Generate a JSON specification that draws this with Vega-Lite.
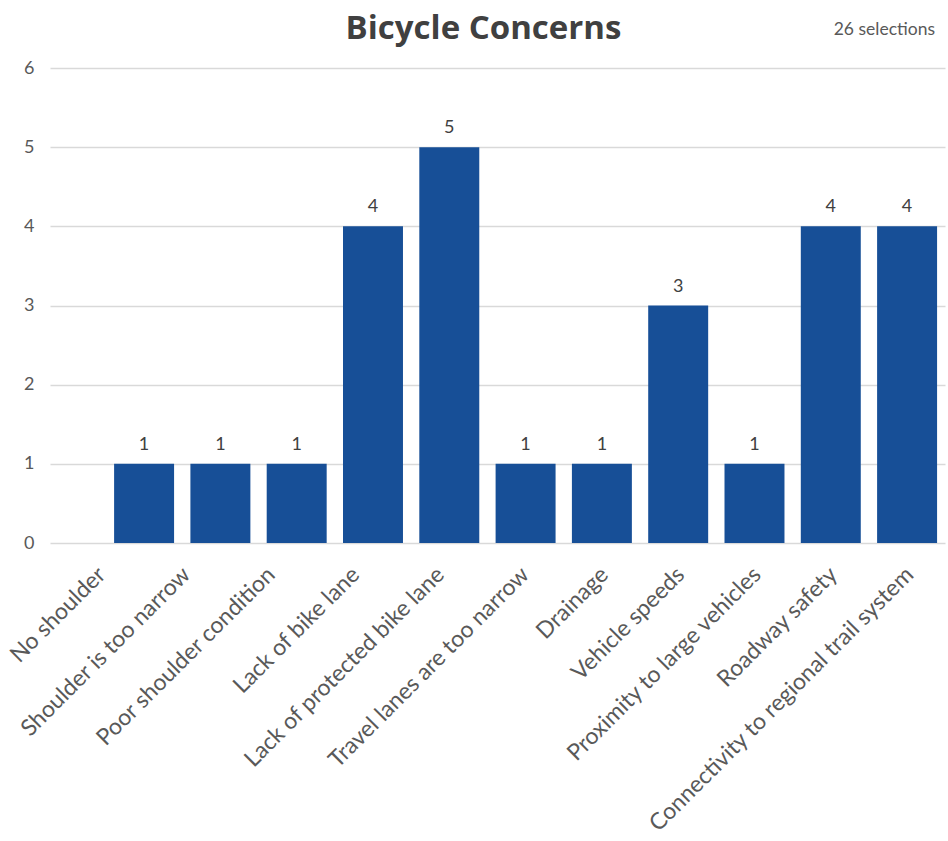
{
  "$schema": "https://vega.github.io/schema/vega-lite/v6.json",
  "width": 895,
  "height": 475,
  "autosize": {"type": "none"},
  "padding": {"left": 50, "top": 68, "right": 3, "bottom": 298},
  "background": "white",
  "config": {
    "view": {"stroke": null},
    "font": "Lato",
    "text": {"font": "Lato"}
  },
  "title": {
    "text": "Bicycle Concerns",
    "font": "Open Sans",
    "fontSize": 33,
    "fontWeight": "bold",
    "color": "#404040",
    "anchor": "middle",
    "frame": "group",
    "dx": -14,
    "offset": -25
  },
  "data": {
    "values": [
      {"concern": "No shoulder", "count": 1},
      {"concern": "Shoulder is too narrow", "count": 1},
      {"concern": "Poor shoulder condition", "count": 1},
      {"concern": "Lack of bike lane", "count": 4},
      {"concern": "Lack of protected bike lane", "count": 5},
      {"concern": "Travel lanes are too narrow", "count": 1},
      {"concern": "Drainage", "count": 1},
      {"concern": "Vehicle speeds", "count": 3},
      {"concern": "Proximity to large vehicles", "count": 1},
      {"concern": "Roadway safety", "count": 4},
      {"concern": "Connectivity to regional trail system", "count": 4}
    ]
  },
  "encoding": {
    "x": {
      "field": "concern",
      "type": "nominal",
      "sort": null,
      "scale": {"paddingInner": 0.214, "paddingOuter": 0.472, "align": 0.89},
      "axis": {
        "title": null,
        "labelAngle": -45,
        "labelAlign": "right",
        "labelBaseline": "top",
        "labelFont": "Lato",
        "labelFontSize": 23,
        "labelColor": "#595959",
        "labelPadding": 20,
        "labelOffset": {"expr": "min(-50 + 84 * datum.index, -5)"},
        "labelLimit": 500,
        "ticks": false,
        "domain": false,
        "grid": false
      }
    },
    "y": {
      "field": "count",
      "type": "quantitative",
      "scale": {"domain": [0, 6], "nice": false},
      "axis": {
        "title": null,
        "values": [0, 1, 2, 3, 4, 5, 6],
        "labelFont": "Lato",
        "labelFontSize": 18,
        "labelColor": "#595959",
        "labelPadding": 16,
        "ticks": false,
        "domain": false,
        "grid": true,
        "gridColor": "#d9d9d9",
        "gridWidth": 1.5
      }
    }
  },
  "layer": [
    {
      "mark": {"type": "bar", "color": "#174f97"}
    },
    {
      "mark": {
        "type": "text",
        "font": "Lato",
        "fontSize": 18,
        "color": "#404040",
        "baseline": "alphabetic",
        "dy": -14
      },
      "encoding": {"text": {"field": "count", "type": "quantitative"}}
    },
    {
      "transform": [
        {"joinaggregate": [{"op": "sum", "field": "count", "as": "total"}]},
        {"filter": "datum.concern === 'Connectivity to regional trail system'"},
        {"calculate": "datum.total + ' selections'", "as": "note"}
      ],
      "mark": {
        "type": "text",
        "font": "Lato",
        "fontSize": 17.5,
        "color": "#595959",
        "align": "right",
        "baseline": "middle",
        "dx": 28,
        "dy": -38
      },
      "encoding": {
        "y": {"datum": 6},
        "text": {"field": "note", "type": "nominal"}
      }
    }
  ]
}
